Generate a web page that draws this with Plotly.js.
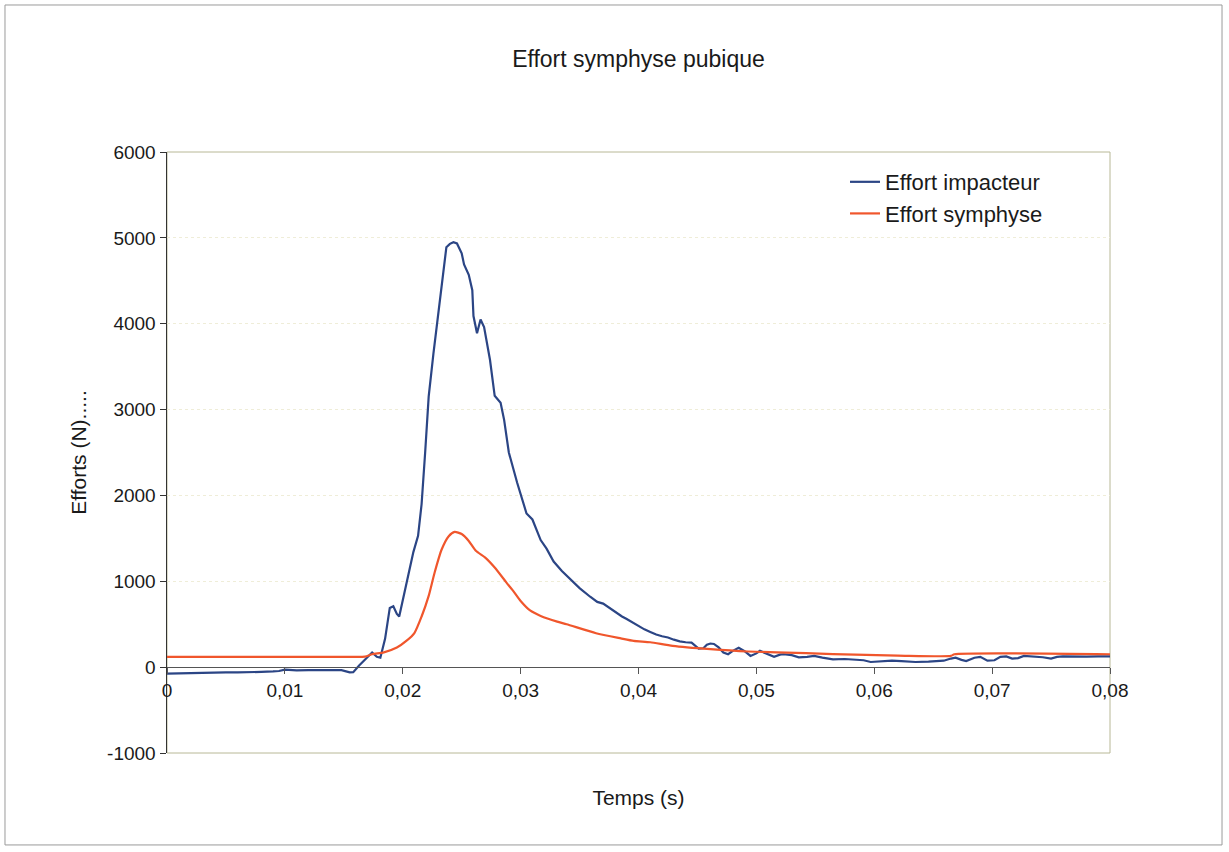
<!DOCTYPE html>
<html><head><meta charset="utf-8">
<script src="https://cdn.plot.ly/plotly-3.0.1.min.js"></script>
<style>html,body{margin:0;padding:0;background:#fff}#chart{width:1229px;height:852px}</style>
</head><body><div id="chart"></div>
<script>
// Effort impacteur (blue)
const tImpacteur = [0,0.001,0.002,0.003,0.004,0.005,0.006,0.007,0.008,0.009,0.0095,0.010,0.011,0.012,0.013,0.014,0.0148,0.0155,0.0158,0.0163,0.0168,0.0174,0.0178,0.0181,0.0185,0.0189,0.0192,0.0195,0.0197,0.0202,0.0209,0.0213,0.0216,0.0219,0.0222,0.0226,0.0230,0.0235,0.0237,0.0240,0.0243,0.0246,0.0250,0.0252,0.0256,0.0259,0.0260,0.0263,0.0266,0.0269,0.0274,0.0278,0.0283,0.0286,0.0290,0.0297,0.0305,0.0310,0.0317,0.0322,0.0328,0.0335,0.0345,0.0350,0.0359,0.0365,0.0370,0.0375,0.0380,0.0386,0.0390,0.0396,0.0400,0.0405,0.0410,0.0415,0.0420,0.0425,0.0430,0.0435,0.0440,0.0445,0.0449,0.0451,0.0455,0.0458,0.0461,0.0464,0.0468,0.0472,0.0476,0.0480,0.0485,0.0490,0.0495,0.0500,0.0503,0.0508,0.0515,0.0520,0.0523,0.0530,0.0536,0.0543,0.0549,0.0556,0.0565,0.0575,0.0591,0.0597,0.0605,0.0615,0.0623,0.0635,0.0646,0.0655,0.0659,0.0665,0.0669,0.0674,0.0678,0.0685,0.0690,0.0696,0.0702,0.0707,0.0712,0.0717,0.0722,0.0727,0.0735,0.0743,0.0750,0.0755,0.0760,0.0770,0.0780,0.0790,0.0800];
const fImpacteur = [-75,-72,-70,-62,-65,-60,-62,-55,-55,-50,-45,-30,-38,-35,-33,-30,-35,-60,-58,20,85,170,120,110,330,690,710,620,590,900,1340,1530,1900,2500,3150,3650,4120,4680,4890,4930,4950,4935,4820,4690,4570,4390,4090,3890,4050,3960,3580,3160,3080,2880,2500,2150,1790,1720,1480,1380,1230,1120,990,920,820,760,740,690,650,590,560,510,480,440,410,380,360,345,320,300,290,285,240,215,220,260,275,270,230,170,150,190,225,185,130,160,190,160,120,145,150,140,115,120,130,110,90,95,80,60,70,75,70,60,65,70,75,100,110,85,70,110,120,75,80,120,125,100,105,130,125,115,100,120,125,120,122,125,125];
// Effort symphyse (orange)
const tSymphyse = [0,0.005,0.010,0.015,0.0168,0.0174,0.0184,0.0195,0.0203,0.0210,0.0216,0.0222,0.0227,0.0233,0.0239,0.0244,0.0250,0.0256,0.0262,0.0270,0.0278,0.0288,0.0293,0.0300,0.0308,0.0317,0.0331,0.0339,0.0364,0.0385,0.0396,0.0410,0.0429,0.0461,0.0493,0.0542,0.0565,0.0620,0.0665,0.0668,0.0800];
const fSymphyse = [120,120,120,120,122,150,172,228,305,400,590,830,1100,1370,1525,1575,1550,1470,1355,1275,1160,985,900,770,660,597,530,500,395,335,306,290,248,209,182,163,151,135,131,150,150];
const xTicks = [0,0.01,0.02,0.03,0.04,0.05,0.06,0.07,0.08];
const xTickLabels = ['0','0,01','0,02','0,03','0,04','0,05','0,06','0,07','0,08'];
const yTicks = [-1000,0,1000,2000,3000,4000,5000,6000];
const yTickLabels = ['-1000','0','1000','2000','3000','4000','5000','6000'];

const font = {family:'Liberation Sans, Arial, sans-serif', color:'#1a1a1a'};
const traces = [
  {x:tImpacteur, y:fImpacteur, type:'scatter', mode:'lines', name:'Effort impacteur',
   line:{color:'#2b4585', width:2.2}},
  {x:tSymphyse, y:fSymphyse, type:'scatter', mode:'lines', name:'Effort symphyse',
   line:{color:'#f0562c', width:2.2, shape:'spline', smoothing:0.6}}
];
const layout = {
  width:1229, height:852,
  margin:{l:167, r:119, t:152, b:99},
  paper_bgcolor:'#ffffff', plot_bgcolor:'#ffffff',
  separators:', ',
  font:Object.assign({size:19}, font),
  title:{text:'Effort symphyse pubique', x:0.5, xref:'paper', y:0.94, yref:'container',
         font:Object.assign({}, font, {size:23})},
  showlegend:true,
  legend:{x:0.719, y:0.985, xanchor:'left', yanchor:'top', bgcolor:'rgba(0,0,0,0)',
          font:Object.assign({}, font, {size:22}), itemwidth:30, tracegroupgap:0},
  xaxis:{range:[0,0.08], tickvals:xTicks, ticktext:xTickLabels, anchor:'free', position:1/7,
         showgrid:false, zeroline:false, showline:true, linecolor:'#555', linewidth:1,
         ticks:'outside', ticklen:6, tickcolor:'#555',
         title:{text:'Temps (s)', font:Object.assign({}, font, {size:21}), standoff:90},
         tickfont:Object.assign({}, font, {size:19})},
  yaxis:{range:[-1000,6000], tickvals:yTicks, ticktext:yTickLabels, showgrid:true, gridcolor:'#efedd8', griddash:'dot',
         gridwidth:1, zeroline:false, showline:true, linecolor:'#333', linewidth:1.5,
         ticks:'outside', ticklen:6, tickcolor:'#333',
         title:{text:'Efforts (N).....', font:Object.assign({}, font, {size:21}), standoff:14},
         tickfont:Object.assign({}, font, {size:19})},
  shapes:[
    {type:'rect', xref:'paper', yref:'paper', x0:0, x1:1, y0:0, y1:1,
     line:{color:'#b8b896', width:1}, layer:'below'},
    {type:'rect', xref:'paper', yref:'paper', x0:-0.1718, x1:1.1188, y0:-0.153, y1:1.2446,
     line:{color:'#9a9a9a', width:1}, layer:'below'}
  ]
};
Plotly.newPlot('chart', traces, layout, {displayModeBar:false, staticPlot:true});
</script>
</body></html>
